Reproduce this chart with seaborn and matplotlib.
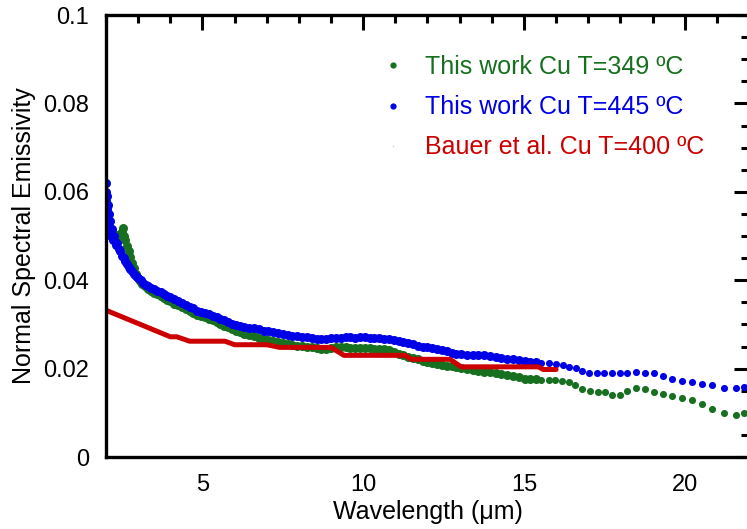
import matplotlib
matplotlib.use("Agg")
import matplotlib.pyplot as plt
from matplotlib.lines import Line2D
from matplotlib.ticker import MultipleLocator, FuncFormatter
import seaborn as sns

sns.set_style("white")
plt.rcParams["font.family"] = ["Liberation Sans", "DejaVu Sans"]
plt.rcParams["text.color"] = "black"
plt.rcParams["axes.labelcolor"] = "black"
plt.rcParams["xtick.color"] = "black"
plt.rcParams["ytick.color"] = "black"

GREEN = "#17701f"
BLUE = "#0000e6"
RED = "#cc0000"

## DATA
# This work Cu T=349 C
green_wl = [2.00, 2.03, 2.06, 2.10, 2.15, 2.20, 2.26, 2.32, 2.38, 2.44, 2.50, 2.53, 2.56, 2.60, 2.65,
            2.70, 2.75, 2.80, 2.86, 2.92, 2.98, 3.05, 3.12, 3.20, 3.30, 3.40, 3.50, 3.60, 3.70, 3.80,
            3.90, 4.00, 4.12, 4.24, 4.36, 4.48, 4.60, 4.72, 4.84, 4.96, 5.08, 5.20, 5.32, 5.44, 5.56,
            5.68, 5.80, 5.92, 6.04, 6.16, 6.30, 6.45, 6.60, 6.75, 6.90, 7.05, 7.20, 7.35, 7.50, 7.65,
            7.80, 7.95, 8.10, 8.25, 8.40, 8.55, 8.70, 8.85, 9.00, 9.15, 9.30, 9.45, 9.60, 9.75, 9.90,
            10.05, 10.20, 10.35, 10.50, 10.65, 10.80, 10.95, 11.10, 11.25, 11.40, 11.55, 11.70, 11.85,
            12.00, 12.15, 12.30, 12.45, 12.60, 12.75, 12.90, 13.05, 13.22, 13.40, 13.58, 13.76, 13.94,
            14.12, 14.30, 14.48, 14.66, 14.84, 15.02, 15.20, 15.37, 15.53, 15.77, 15.98, 16.18, 16.39,
            16.60, 16.82, 17.05, 17.29, 17.53, 17.75, 17.98, 18.22, 18.50, 18.77, 19.04, 19.33, 19.62,
            19.93, 20.24, 20.55, 20.86, 21.22, 21.59, 21.84]
green_eps = [0.0560, 0.0545, 0.0535, 0.0525, 0.0515, 0.0510, 0.0505, 0.0500, 0.0500, 0.0505, 0.0510,
             0.0518, 0.0500, 0.0490, 0.0478, 0.0465, 0.0452, 0.0440, 0.0428, 0.0415, 0.0405, 0.0398,
             0.0392, 0.0387, 0.0381, 0.0376, 0.0372, 0.0368, 0.0364, 0.0360, 0.0356, 0.0352, 0.0347,
             0.0343, 0.0339, 0.0335, 0.0331, 0.0326, 0.0321, 0.0318, 0.0316, 0.0313, 0.0309, 0.0305,
             0.0301, 0.0297, 0.0293, 0.0289, 0.0285, 0.0282, 0.0279, 0.0276, 0.0273, 0.0270, 0.0267,
             0.0265, 0.0262, 0.0260, 0.0258, 0.0256, 0.0254, 0.0252, 0.0251, 0.0250, 0.0249, 0.0247,
             0.0245, 0.0244, 0.0246, 0.0248, 0.0249, 0.0248, 0.0247, 0.0247, 0.0246, 0.0246, 0.0246,
             0.0245, 0.0245, 0.0244, 0.0242, 0.0238, 0.0234, 0.0230, 0.0227, 0.0224, 0.0221, 0.0217,
             0.0214, 0.0212, 0.0210, 0.0209, 0.0207, 0.0205, 0.0203, 0.0201, 0.0199, 0.0196, 0.0194,
             0.0193, 0.0192, 0.0190, 0.0188, 0.0186, 0.0183, 0.0180, 0.0177, 0.0176, 0.0176, 0.0174,
             0.0175, 0.0174, 0.0172, 0.0169, 0.0163, 0.0153, 0.0149, 0.0147, 0.0146, 0.0140, 0.0140,
             0.0149, 0.0155, 0.0153, 0.0147, 0.0142, 0.0138, 0.0134, 0.0130, 0.0121, 0.0108, 0.0099,
             0.0095, 0.0100]

# This work Cu T=445 C
blue_wl = [2.00, 2.00, 2.01, 2.02, 2.03, 2.04, 2.05, 2.06, 2.08, 2.10, 2.12, 2.15, 2.18, 2.22, 2.26,
           2.30, 2.35, 2.40, 2.45, 2.50, 2.55, 2.60, 2.65, 2.70, 2.75, 2.80, 2.87, 2.94, 3.00, 3.08,
           3.16, 3.24, 3.32, 3.40, 3.50, 3.60, 3.70, 3.80, 3.90, 4.00, 4.12, 4.24, 4.36, 4.48, 4.60,
           4.72, 4.84, 4.96, 5.08, 5.20, 5.32, 5.44, 5.56, 5.68, 5.80, 5.92, 6.04, 6.16, 6.30, 6.45,
           6.60, 6.75, 6.90, 7.05, 7.20, 7.35, 7.50, 7.65, 7.80, 7.95, 8.10, 8.25, 8.40, 8.55, 8.70,
           8.85, 9.00, 9.15, 9.30, 9.45, 9.60, 9.75, 9.90, 10.05, 10.20, 10.35, 10.50, 10.65, 10.80,
           10.95, 11.10, 11.25, 11.40, 11.55, 11.70, 11.85, 12.00, 12.15, 12.30, 12.45, 12.60, 12.75,
           12.90, 13.05, 13.22, 13.40, 13.58, 13.76, 13.94, 14.12, 14.30, 14.48, 14.66, 14.84, 15.02,
           15.20, 15.37, 15.53, 15.79, 16.00, 16.20, 16.41, 16.62, 16.82, 17.03, 17.26, 17.50, 17.75,
           17.98, 18.22, 18.50, 18.77, 19.04, 19.33, 19.62, 19.93, 20.24, 20.55, 20.86, 21.22, 21.59,
           21.84]
blue_eps = [0.0620, 0.0580, 0.0600, 0.0560, 0.0590, 0.0540, 0.0570, 0.0520, 0.0550, 0.0505, 0.0535,
            0.0500, 0.0515, 0.0490, 0.0500, 0.0480, 0.0485, 0.0470, 0.0465, 0.0455, 0.0450, 0.0443,
            0.0436, 0.0430, 0.0425, 0.0420, 0.0415, 0.0410, 0.0406, 0.0400, 0.0394, 0.0390, 0.0386,
            0.0382, 0.0379, 0.0376, 0.0373, 0.0369, 0.0365, 0.0361, 0.0357, 0.0352, 0.0348, 0.0344,
            0.0340, 0.0336, 0.0331, 0.0328, 0.0326, 0.0324, 0.0320, 0.0316, 0.0312, 0.0309, 0.0305,
            0.0301, 0.0298, 0.0296, 0.0294, 0.0292, 0.0291, 0.0289, 0.0286, 0.0284, 0.0282, 0.0280,
            0.0278, 0.0276, 0.0274, 0.0273, 0.0272, 0.0271, 0.0270, 0.0268, 0.0267, 0.0268, 0.0269,
            0.0270, 0.0270, 0.0271, 0.0271, 0.0270, 0.0271, 0.0271, 0.0270, 0.0270, 0.0269, 0.0268,
            0.0267, 0.0265, 0.0262, 0.0260, 0.0258, 0.0255, 0.0252, 0.0250, 0.0248, 0.0246, 0.0244,
            0.0241, 0.0239, 0.0236, 0.0234, 0.0232, 0.0231, 0.0230, 0.0230, 0.0230, 0.0229, 0.0227,
            0.0224, 0.0222, 0.0221, 0.0219, 0.0217, 0.0215, 0.0214, 0.0212, 0.0212, 0.0210, 0.0208,
            0.0204, 0.0202, 0.0195, 0.0190, 0.0189, 0.0189, 0.0189, 0.0189, 0.0191, 0.0193, 0.0191,
            0.0189, 0.0183, 0.0177, 0.0173, 0.0169, 0.0165, 0.0162, 0.0157, 0.0157, 0.0158]

# Bauer et al. Cu T=400 C
bauer_wl = [2.0, 4.0, 4.2, 4.6, 5.7, 6.0, 7.0, 7.4, 9.0, 9.4, 11.3, 11.5, 12.7, 13.05, 15.45, 15.6, 16.0]
bauer_eps = [0.0332, 0.0272, 0.0272, 0.0262, 0.0262, 0.0254, 0.0254, 0.0248, 0.0248, 0.0230, 0.0230,
             0.0221, 0.0221, 0.0204, 0.0204, 0.0198, 0.0198]

labels = ["This work Cu T=349 ºC", "This work Cu T=445 ºC", "Bauer et al. Cu T=400 ºC"]

fig = plt.figure(figsize=(7.47, 5.29), dpi=100)
ax = fig.add_axes([106 / 747, 72 / 529, 643 / 747, 442 / 529])

# dense part of the spectra shows as a thick band, the tail as single dots
for wl, eps, col in [(green_wl, green_eps, GREEN), (blue_wl, blue_eps, BLUE)]:
    n = sum(w < 15.4 for w in wl)
    sns.scatterplot(x=wl[:n], y=eps[:n], color=col, s=42, linewidth=0, ax=ax, legend=False)
    sns.scatterplot(x=wl[n:], y=eps[n:], color=col, s=26, linewidth=0, ax=ax, legend=False)
sns.lineplot(x=bauer_wl, y=bauer_eps, color=RED, linewidth=3.6, estimator=None, ax=ax)

ax.set_xlim(2, 22)
ax.set_ylim(0, 0.1)
ax.xaxis.set_major_locator(MultipleLocator(5))
ax.xaxis.set_minor_locator(MultipleLocator(1))
ax.yaxis.set_major_locator(MultipleLocator(0.02))
ax.yaxis.set_minor_locator(MultipleLocator(0.005))
ax.yaxis.set_major_formatter(FuncFormatter(lambda v, p: f"{v:g}"))
ax.tick_params(which="both", direction="in", top=True, right=True, width=2.2, color="black")
ax.tick_params(which="major", length=11, labelsize=17, pad=12)
ax.tick_params(which="minor", length=6)
for sp in ax.spines.values():
    sp.set_linewidth(2.4)
    sp.set_color("black")

ax.set_xlabel("Wavelength (μm)", fontsize=18, labelpad=3)
ax.set_ylabel("Normal Spectral Emissivity", fontsize=18, labelpad=5)

handles = [
    Line2D([], [], ls="none", marker="o", markersize=4.5, color=GREEN, markeredgewidth=0),
    Line2D([], [], ls="none", marker="o", markersize=4.5, color=BLUE, markeredgewidth=0),
    Line2D([], [], ls="none", marker="o", markersize=1.0, color=RED, alpha=0.3, markeredgewidth=0),
]
leg = ax.legend(handles, labels, loc="upper left", bbox_to_anchor=(380.5 / 747, 1 - 55 / 529),
                bbox_transform=fig.transFigure, frameon=False, fontsize=18, borderpad=0,
                borderaxespad=0, handlelength=1.0, handletextpad=0.78, labelspacing=0.65)
for t, c in zip(leg.get_texts(), [GREEN, BLUE, RED]):
    t.set_color(c)

fig.savefig("out.png", dpi=100)
